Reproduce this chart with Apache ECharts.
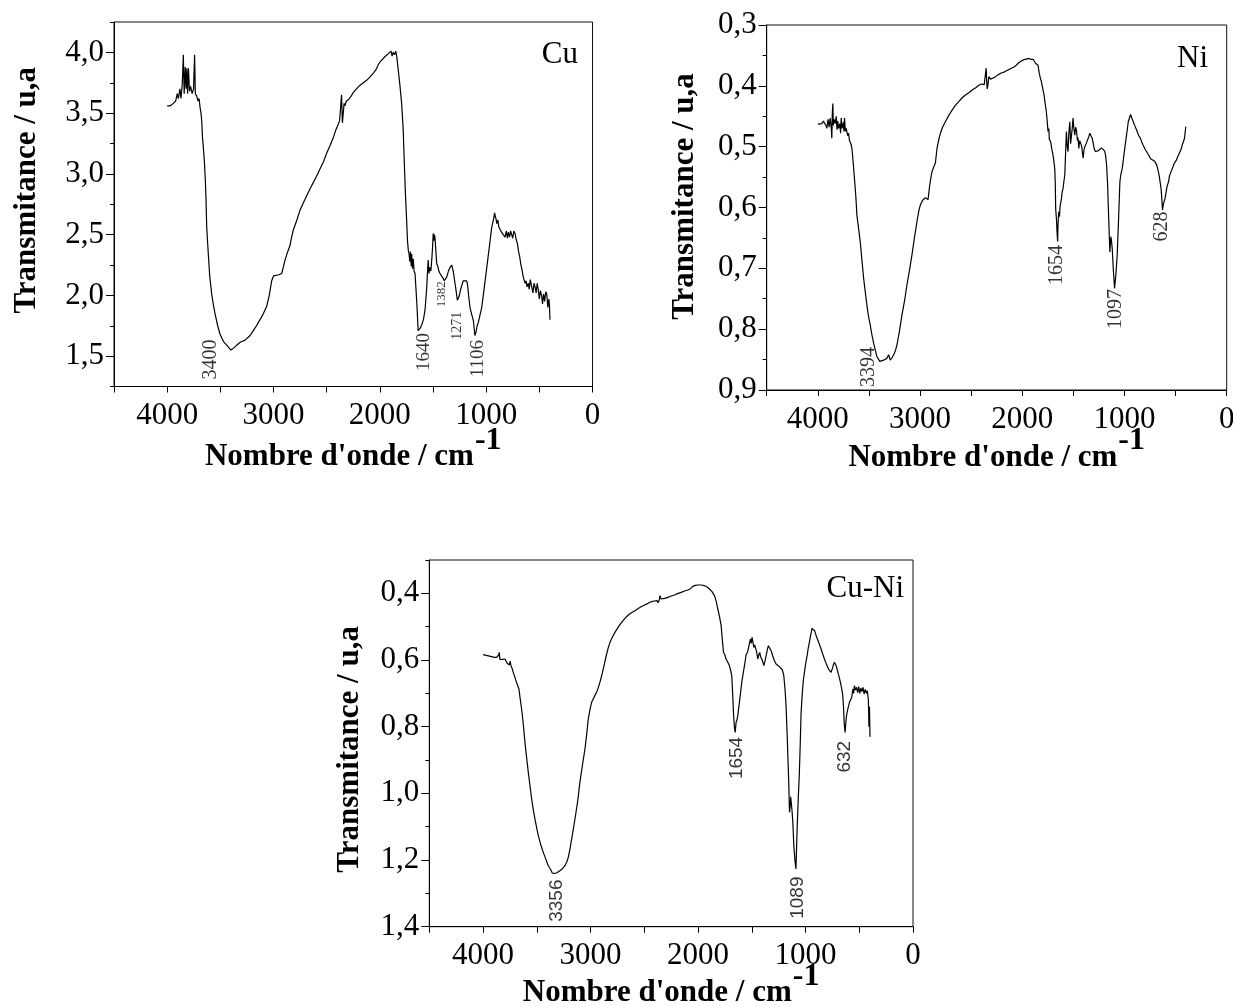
<!DOCTYPE html>
<html>
<head>
<meta charset="utf-8">
<title>Spectres IR Cu, Ni, Cu-Ni</title>
<script src="https://cdn.jsdelivr.net/npm/echarts@6/dist/echarts.min.js"></script>
<style>
  html, body { margin: 0; padding: 0; background: #fff; }
  #chart { width: 1233px; height: 1007px; }
</style>
</head>
<body>
<div id="chart"></div>
<script>
// ---- tick labels ----
const wavenumberTicks = [0, 1000, 2000, 3000, 4000];
const cuTickLabels = [1.5, 2.0, 2.5, 3.0, 3.5, 4.0];
const niTickLabels = [0.3, 0.4, 0.5, 0.6, 0.7, 0.8, 0.9];
const cuniTickLabels = [0.4, 0.6, 0.8, 1.0, 1.2, 1.4];

// ---- spectra: [wavenumber cm-1, transmittance] ----
const cuSpectrum = [
  [4000,3.56],[3970,3.56],[3942,3.58],[3920,3.60],[3905,3.66],[3895,3.62],[3880,3.70],[3870,3.62],
  [3858,3.74],[3848,3.98],[3840,3.66],[3830,3.88],[3822,3.70],[3815,3.87],[3808,3.66],[3800,3.87],
  [3790,3.68],[3780,3.72],[3765,3.66],[3752,3.70],[3742,3.98],[3735,3.66],[3722,3.64],[3710,3.60],
  [3700,3.62],[3691,3.55],[3682,3.50],[3675,3.44],[3668,3.30],[3660,3.22],[3650,3.10],[3641,2.95],
  [3635,2.80],[3628,2.56],[3620,2.44],[3613,2.34],[3600,2.16],[3581,2.01],[3565,1.92],[3550,1.85],
  [3525,1.75],[3503,1.68],[3470,1.62],[3440,1.59],[3400,1.55],[3370,1.57],[3346,1.59],[3320,1.61],
  [3299,1.62],[3270,1.63],[3252,1.64],[3220,1.67],[3190,1.71],[3160,1.75],[3127,1.80],[3095,1.85],
  [3064,1.91],[3040,2.00],[3017,2.12],[3000,2.16],[2986,2.17],[2950,2.17],[2923,2.18],[2905,2.24],
  [2892,2.29],[2870,2.35],[2845,2.41],[2830,2.48],[2813,2.54],[2780,2.62],[2751,2.70],[2720,2.76],
  [2688,2.82],[2655,2.88],[2625,2.93],[2595,2.98],[2563,3.04],[2530,3.10],[2500,3.17],[2470,3.23],
  [2437,3.30],[2410,3.37],[2390,3.41],[2378,3.44],[2368,3.43],[2360,3.65],[2352,3.42],[2343,3.41],
  [2336,3.58],[2328,3.56],[2315,3.60],[2296,3.61],[2270,3.64],[2249,3.67],[2220,3.70],[2186,3.73],
  [2155,3.75],[2124,3.77],[2090,3.80],[2061,3.83],[2035,3.86],[2014,3.90],[1990,3.93],[1967,3.95],
  [1945,3.97],[1920,3.99],[1905,3.98],[1895,4.01],[1885,3.97],[1875,4.00],[1862,3.98],[1850,4.01],
  [1840,3.96],[1826,3.85],[1810,3.72],[1795,3.58],[1780,3.36],[1773,3.17],[1760,2.85],[1748,2.62],
  [1740,2.45],[1732,2.37],[1725,2.34],[1718,2.28],[1712,2.36],[1705,2.24],[1700,2.34],[1693,2.22],
  [1685,2.30],[1678,2.20],[1669,2.18],[1660,2.05],[1650,1.90],[1640,1.71],[1630,1.72],[1620,1.73],
  [1605,1.76],[1590,1.80],[1575,1.88],[1560,2.05],[1550,2.22],[1545,2.29],[1538,2.18],[1528,2.23],
  [1520,2.20],[1512,2.29],[1505,2.38],[1498,2.51],[1492,2.45],[1486,2.50],[1481,2.47],[1474,2.38],
  [1465,2.26],[1455,2.24],[1445,2.20],[1434,2.18],[1420,2.16],[1405,2.14],[1395,2.12],[1382,2.12],
  [1371,2.15],[1355,2.20],[1340,2.23],[1324,2.25],[1310,2.20],[1293,2.10],[1280,2.02],[1271,1.96],
  [1255,1.99],[1240,2.05],[1230,2.08],[1215,2.12],[1199,2.13],[1185,2.12],[1177,2.10],[1165,2.00],
  [1152,1.90],[1135,1.84],[1120,1.79],[1106,1.67],[1095,1.70],[1085,1.75],[1073,1.78],[1055,1.85],
  [1042,1.90],[1020,2.05],[994,2.23],[970,2.40],[948,2.56],[930,2.63],[920,2.68],[916,2.66],
  [905,2.62],[901,2.59],[890,2.62],[880,2.56],[869,2.55],[855,2.52],[840,2.50],[822,2.48],
  [810,2.53],[800,2.47],[791,2.52],[780,2.48],[770,2.53],[760,2.52],[750,2.47],[740,2.53],
  [728,2.51],[718,2.46],[707,2.43],[695,2.36],[685,2.32],[675,2.26],[665,2.22],[655,2.17],
  [645,2.13],[634,2.10],[625,2.12],[615,2.07],[603,2.10],[595,2.05],[585,2.13],[572,2.12],
  [560,2.02],[550,2.10],[540,2.07],[530,2.02],[520,2.10],[509,2.04],[500,1.97],[490,2.04],
  [477,1.99],[470,1.93],[460,2.01],[450,1.95],[440,2.03],[430,2.01],[420,1.90],[410,1.97],
  [405,1.92],[400,1.80]
];

const niSpectrum = [
  [4000,0.463],[3985,0.462],[3961,0.462],[3945,0.458],[3928,0.459],[3918,0.466],[3912,0.470],
  [3900,0.455],[3890,0.468],[3879,0.453],[3868,0.470],[3863,0.486],[3858,0.445],[3853,0.429],
  [3848,0.465],[3840,0.455],[3830,0.462],[3820,0.450],[3812,0.472],[3805,0.458],[3797,0.470],
  [3785,0.462],[3777,0.478],[3771,0.453],[3764,0.470],[3758,0.473],[3750,0.460],[3745,0.475],
  [3739,0.453],[3730,0.475],[3722,0.470],[3716,0.475],[3708,0.482],[3699,0.478],[3690,0.490],
  [3682,0.488],[3673,0.497],[3665,0.505],[3660,0.514],[3652,0.530],[3645,0.545],[3634,0.568],
  [3625,0.590],[3618,0.612],[3600,0.636],[3585,0.656],[3570,0.684],[3552,0.716],[3535,0.740],
  [3520,0.760],[3505,0.778],[3487,0.793],[3470,0.810],[3454,0.823],[3437,0.835],[3422,0.845],
  [3394,0.853],[3375,0.852],[3356,0.851],[3340,0.849],[3324,0.848],[3307,0.842],[3291,0.851],
  [3275,0.847],[3258,0.842],[3240,0.835],[3226,0.826],[3200,0.802],[3177,0.777],[3150,0.752],
  [3128,0.727],[3100,0.700],[3079,0.678],[3055,0.650],[3030,0.623],[3010,0.604],[2997,0.596],
  [2975,0.588],[2948,0.584],[2930,0.582],[2922,0.587],[2915,0.578],[2909,0.568],[2895,0.552],
  [2883,0.541],[2865,0.533],[2850,0.527],[2840,0.512],[2834,0.503],[2815,0.487],[2801,0.478],
  [2780,0.468],[2752,0.459],[2720,0.449],[2686,0.440],[2655,0.432],[2621,0.426],[2590,0.420],
  [2556,0.415],[2520,0.411],[2490,0.407],[2455,0.403],[2425,0.399],[2400,0.397],[2386,0.396],
  [2372,0.398],[2366,0.401],[2358,0.395],[2353,0.371],[2348,0.392],[2343,0.405],[2337,0.400],
  [2327,0.385],[2310,0.389],[2294,0.388],[2270,0.386],[2238,0.382],[2205,0.379],[2173,0.377],
  [2140,0.374],[2107,0.371],[2080,0.369],[2058,0.366],[2035,0.362],[2009,0.359],[1985,0.357],
  [1960,0.356],[1945,0.358],[1935,0.355],[1928,0.357],[1915,0.356],[1900,0.359],[1890,0.357],
  [1879,0.360],[1870,0.363],[1860,0.361],[1846,0.366],[1835,0.378],[1825,0.386],[1813,0.393],
  [1800,0.404],[1787,0.415],[1775,0.430],[1764,0.443],[1755,0.460],[1748,0.475],[1740,0.470],
  [1735,0.488],[1722,0.492],[1710,0.505],[1699,0.514],[1690,0.525],[1682,0.536],[1677,0.560],
  [1673,0.602],[1665,0.620],[1660,0.640],[1654,0.656],[1650,0.628],[1643,0.607],[1636,0.615],
  [1630,0.598],[1624,0.596],[1616,0.585],[1610,0.575],[1601,0.569],[1592,0.556],[1584,0.547],
  [1576,0.510],[1568,0.475],[1560,0.500],[1552,0.508],[1545,0.480],[1535,0.459],[1527,0.495],
  [1519,0.492],[1511,0.470],[1503,0.453],[1495,0.470],[1486,0.481],[1478,0.468],[1470,0.473],
  [1460,0.490],[1455,0.485],[1447,0.503],[1438,0.490],[1427,0.495],[1418,0.500],[1410,0.512],
  [1404,0.519],[1396,0.505],[1388,0.500],[1375,0.495],[1362,0.492],[1350,0.484],[1339,0.478],
  [1328,0.480],[1316,0.486],[1305,0.495],[1297,0.503],[1285,0.508],[1274,0.508],[1260,0.507],
  [1250,0.504],[1241,0.505],[1225,0.502],[1208,0.503],[1195,0.507],[1185,0.514],[1175,0.530],
  [1166,0.558],[1158,0.600],[1150,0.640],[1143,0.673],[1138,0.660],[1133,0.648],[1127,0.655],
  [1120,0.667],[1110,0.700],[1097,0.733],[1085,0.712],[1078,0.695],[1071,0.678],[1058,0.620],
  [1045,0.558],[1035,0.545],[1022,0.536],[1005,0.513],[989,0.492],[975,0.475],[963,0.459],
  [950,0.452],[940,0.447],[930,0.452],[922,0.455],[914,0.459],[900,0.465],[881,0.473],
  [860,0.482],[845,0.486],[832,0.492],[820,0.497],[805,0.500],[795,0.505],[783,0.508],
  [770,0.512],[755,0.516],[745,0.520],[734,0.519],[725,0.522],[715,0.520],[705,0.524],
  [695,0.525],[685,0.530],[677,0.535],[669,0.541],[660,0.548],[650,0.560],[642,0.569],
  [635,0.585],[628,0.604],[620,0.595],[612,0.590],[603,0.585],[596,0.578],[590,0.572],
  [583,0.565],[577,0.563],[568,0.557],[560,0.548],[552,0.545],[544,0.541],[535,0.538],
  [525,0.533],[515,0.528],[505,0.525],[495,0.523],[485,0.519],[475,0.515],[465,0.512],
  [456,0.508],[445,0.504],[435,0.497],[423,0.492],[412,0.485],[400,0.467]
];

const cuniSpectrum = [
  [4000,0.584],[3960,0.587],[3920,0.590],[3895,0.592],[3874,0.592],[3862,0.596],[3855,0.585],
  [3849,0.577],[3843,0.598],[3835,0.596],[3827,0.602],[3815,0.598],[3805,0.600],[3796,0.597],
  [3785,0.604],[3775,0.610],[3765,0.607],[3755,0.615],[3748,0.603],[3740,0.617],[3730,0.625],
  [3719,0.637],[3705,0.650],[3696,0.660],[3688,0.667],[3677,0.677],[3666,0.687],[3655,0.715],
  [3641,0.747],[3625,0.795],[3610,0.847],[3595,0.892],[3579,0.937],[3563,0.978],[3548,1.017],
  [3533,1.048],[3517,1.077],[3500,1.105],[3486,1.127],[3463,1.154],[3440,1.177],[3415,1.198],
  [3393,1.217],[3370,1.229],[3356,1.239],[3335,1.240],[3316,1.239],[3300,1.236],[3285,1.232],
  [3262,1.226],[3238,1.217],[3220,1.205],[3207,1.192],[3190,1.165],[3176,1.137],[3160,1.107],
  [3145,1.077],[3120,1.025],[3099,0.967],[3075,0.915],[3052,0.867],[3035,0.820],[3021,0.777],
  [3005,0.748],[2990,0.727],[2965,0.710],[2944,0.697],[2930,0.685],[2913,0.667],[2897,0.648],
  [2882,0.627],[2865,0.603],[2850,0.582],[2835,0.563],[2819,0.547],[2795,0.530],[2773,0.517],
  [2740,0.500],[2711,0.487],[2680,0.475],[2649,0.465],[2620,0.458],[2587,0.452],[2560,0.446],
  [2530,0.440],[2498,0.435],[2465,0.430],[2436,0.425],[2405,0.423],[2380,0.422],[2372,0.428],
  [2368,0.432],[2360,0.420],[2355,0.407],[2350,0.412],[2343,0.417],[2310,0.415],[2281,0.412],
  [2250,0.408],[2219,0.405],[2190,0.401],[2157,0.397],[2125,0.393],[2095,0.390],[2070,0.386],
  [2049,0.379],[2025,0.376],[2002,0.375],[1970,0.375],[1940,0.377],[1915,0.381],[1894,0.387],
  [1870,0.395],[1847,0.407],[1830,0.425],[1816,0.447],[1800,0.470],[1785,0.497],[1775,0.535],
  [1763,0.577],[1750,0.585],[1739,0.597],[1725,0.605],[1718,0.600],[1708,0.617],[1697,0.630],
  [1686,0.647],[1678,0.700],[1670,0.760],[1662,0.800],[1654,0.817],[1646,0.787],[1638,0.780],
  [1630,0.767],[1622,0.745],[1615,0.727],[1604,0.698],[1593,0.667],[1580,0.640],[1568,0.617],
  [1560,0.600],[1553,0.585],[1546,0.587],[1538,0.575],[1531,0.577],[1525,0.570],[1518,0.545],
  [1512,0.537],[1505,0.550],[1497,0.532],[1490,0.545],[1481,0.562],[1473,0.555],[1466,0.557],
  [1455,0.575],[1444,0.597],[1435,0.585],[1426,0.577],[1418,0.590],[1407,0.597],[1398,0.605],
  [1388,0.617],[1378,0.605],[1366,0.587],[1355,0.568],[1345,0.557],[1332,0.562],[1320,0.572],
  [1305,0.588],[1289,0.602],[1274,0.612],[1258,0.617],[1242,0.620],[1227,0.622],[1215,0.630],
  [1202,0.647],[1190,0.690],[1181,0.737],[1170,0.830],[1163,0.900],[1156,0.967],[1149,1.057],
  [1143,1.040],[1138,1.010],[1134,1.012],[1126,1.050],[1118,1.087],[1108,1.160],[1097,1.205],
  [1089,1.227],[1082,1.150],[1078,1.107],[1068,1.020],[1057,0.937],[1048,0.840],[1041,0.757],
  [1030,0.700],[1020,0.660],[1010,0.637],[998,0.610],[985,0.587],[975,0.565],[964,0.547],
  [955,0.530],[945,0.515],[940,0.505],[933,0.502],[925,0.500],[915,0.512],[901,0.527],
  [880,0.545],[855,0.567],[840,0.582],[824,0.597],[805,0.613],[786,0.627],[774,0.632],
  [762,0.637],[750,0.625],[740,0.614],[731,0.607],[722,0.612],[715,0.617],[700,0.635],
  [688,0.650],[675,0.667],[664,0.685],[653,0.707],[645,0.750],[640,0.790],[632,0.817],
  [625,0.790],[620,0.770],[613,0.757],[605,0.745],[598,0.748],[591,0.727],[580,0.722],
  [570,0.712],[560,0.687],[552,0.700],[545,0.677],[535,0.690],[525,0.682],[515,0.698],
  [505,0.680],[495,0.700],[485,0.684],[475,0.695],[465,0.682],[455,0.702],[445,0.688],
  [435,0.700],[425,0.692],[415,0.720],[410,0.800],[405,0.740],[400,0.830]
];

// ---- annotated band positions: [wavenumber, transmittance at band] ----
const cuPeaks = [[3400,1.55],[1640,1.71],[1382,2.12],[1271,1.96],[1106,1.67]];
const niPeaks = [[3394,0.853],[1654,0.656],[1097,0.733],[628,0.604]];
const cuniPeaks = [[3356,1.239],[1654,0.817],[1089,1.227],[632,0.817]];

// ---- presentation ----
const SERIF = "'Liberation Serif', 'Times New Roman', serif";
const SANS = "'Liberation Sans', Arial, sans-serif";
const INK = '#000';

// label placement (px, relative to band point) and size for the rotated band labels
const cuPeakStyle   = { font: SERIF, offsets: [[-20,-10],[6,3],[-3,1],[0,12],[4,5]], sizes: [20,19,13,14,19] };
const niPeakStyle   = { font: SERIF, offsets: [[-11,-14],[0,4],[2,1],[0,2]], sizes: [20,20,20,20] };
const cuniPeakStyle = { font: SANS,  offsets: [[5,7],[2,5],[2,8],[0,9]], sizes: [19,19,19,19] };

const panels = [
  { tag: 'Cu', tagAt: [578, 39], grid: { left: 114, top: 22, width: 478.5, height: 364.5 },
    y: { min: 1.25, max: 4.25, interval: 0.25, inverse: false, labels: cuTickLabels },
    xNameGap: 50, yNameGap: 72, yNameShift: 28, spectrum: cuSpectrum, peaks: cuPeaks, peakStyle: cuPeakStyle },
  { tag: 'Ni', tagAt: [1208, 43], grid: { left: 766.7, top: 25, width: 460, height: 365 },
    y: { min: 0.3, max: 0.9, interval: 0.05, inverse: true, labels: niTickLabels },
    xNameGap: 47, yNameGap: 66, yNameShift: 22, spectrum: niSpectrum, peaks: niPeaks, peakStyle: niPeakStyle },
  { tag: 'Cu-Ni', tagAt: [904, 573], grid: { left: 429.3, top: 560, width: 483.7, height: 366.7 },
    y: { min: 0.3, max: 1.4, interval: 0.1, inverse: true, labels: cuniTickLabels },
    xNameGap: 46, yNameGap: 64, yNameShift: -12, spectrum: cuniSpectrum, peaks: cuniPeaks, peakStyle: cuniPeakStyle }
];

const fmtComma = v => v.toFixed(1).replace('.', ',');

const option = {
  backgroundColor: '#fff',
  animation: false,
  grid: [], xAxis: [], yAxis: [], series: [], graphic: []
};

panels.forEach((p, i) => {
  option.grid.push(Object.assign({ show: true, borderColor: '#111', borderWidth: 1,
    backgroundColor: 'transparent', containLabel: false, outerBoundsMode: 'none' }, p.grid));

  option.xAxis.push({
    gridIndex: i, type: 'value', position: 'bottom', inverse: true,
    min: 0, max: 4500, interval: 500,
    axisLine: { show: true, onZero: false, lineStyle: { color: INK, width: 1 } },
    axisTick: { show: true, inside: false, length: 6, lineStyle: { color: INK, width: 1 } },
    axisLabel: { customValues: wavenumberTicks, fontFamily: SERIF, fontSize: 31, color: INK, margin: 14,
      formatter: v => String(Math.round(v)) },
    splitLine: { show: false },
    name: "{t|Nombre d'onde / cm}{s|-1}",
    nameLocation: 'middle', nameGap: p.xNameGap, nameMoveOverlap: false,
    nameTextStyle: {
      rich: {
        t: { fontFamily: SERIF, fontSize: 31, fontWeight: 'bold', color: INK, verticalAlign: 'bottom', lineHeight: 36 },
        s: { fontFamily: SERIF, fontSize: 32, fontWeight: 'bold', color: INK, verticalAlign: 'bottom', lineHeight: 36,
             padding: [0, 0, 16, 1] }
      }
    }
  });

  // main value axis: line, minor ticks, labels, title
  option.yAxis.push({
    gridIndex: i, type: 'value', position: 'left',
    min: p.y.min, max: p.y.max, interval: p.y.interval, inverse: p.y.inverse,
    axisLine: { show: true, onZero: false, lineStyle: { color: INK, width: 1 } },
    axisTick: { show: true, inside: false, length: 4, lineStyle: { color: INK, width: 1 } },
    axisLabel: { customValues: p.y.labels, fontFamily: SERIF, fontSize: 31, color: INK, margin: 10, formatter: fmtComma },
    splitLine: { show: false },
    name: 'Transmitance / u,a', nameLocation: 'middle', nameRotate: 90, nameGap: p.yNameGap, nameMoveOverlap: false,
    nameTextStyle: { fontFamily: SERIF, fontSize: 31, fontWeight: 'bold', color: INK,
      padding: p.yNameShift >= 0 ? [0, 0, 0, p.yNameShift] : [0, -p.yNameShift, 0, 0] }
  });
  // companion axis carrying the longer major ticks
  option.yAxis.push({
    gridIndex: i, type: 'value', position: 'left',
    min: p.y.min, max: p.y.max, interval: p.y.interval, inverse: p.y.inverse,
    axisLine: { show: false, onZero: false },
    axisTick: { show: true, inside: false, length: 8, customValues: p.y.labels, lineStyle: { color: INK, width: 1 } },
    axisLabel: { show: false },
    splitLine: { show: false }
  });

  option.series.push({
    type: 'line', xAxisIndex: i, yAxisIndex: i * 2,
    data: p.spectrum, showSymbol: false, symbol: 'none', smooth: false,
    lineStyle: { color: INK, width: 1.2 }, silent: true, z: 3
  });

  option.series.push({
    type: 'scatter', xAxisIndex: i, yAxisIndex: i * 2,
    symbolSize: 1, itemStyle: { color: 'rgba(0,0,0,0)' }, silent: true, z: 4,
    data: p.peaks.map((pk, k) => ({
      value: pk,
      label: {
        show: true, rotate: 90,
        position: p.peakStyle.offsets[k],
        align: 'right', verticalAlign: 'middle',
        fontFamily: p.peakStyle.font, fontSize: p.peakStyle.sizes[k], color: INK,
        formatter: String(pk[0])
      }
    }))
  });

  option.graphic.push({
    type: 'text', x: p.tagAt[0], y: p.tagAt[1], silent: true,
    style: { text: p.tag, fill: INK, fontFamily: SERIF, fontSize: 31, align: 'right', verticalAlign: 'top' }
  });
});

const chart = echarts.init(document.getElementById('chart'), null, { renderer: 'canvas' });
chart.setOption(option);
</script>
</body>
</html>
